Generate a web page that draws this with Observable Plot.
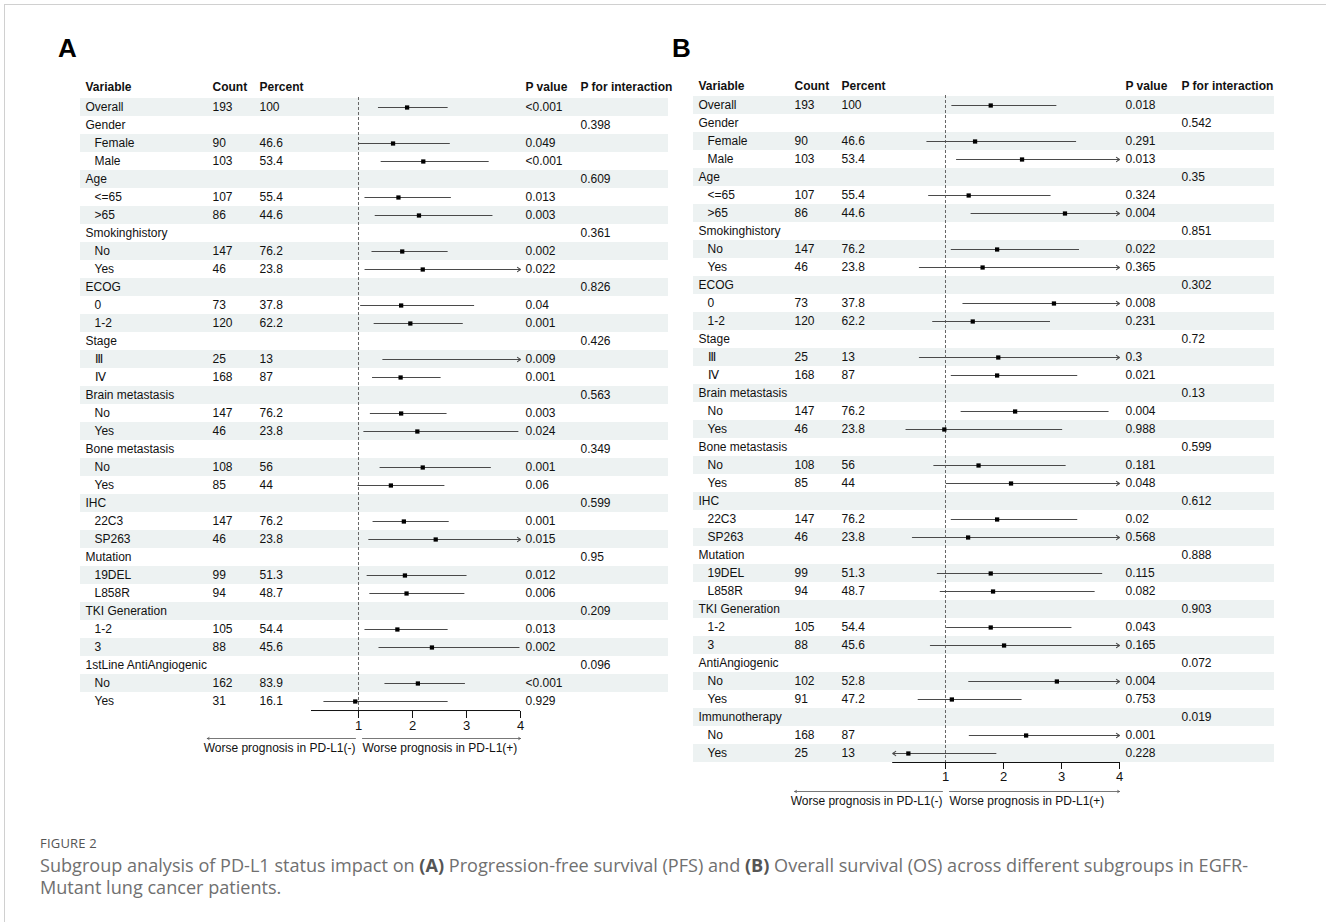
<!DOCTYPE html>
<html>
<head>
<meta charset="utf-8">
<script src="https://cdn.jsdelivr.net/npm/d3@7"></script>
<script src="https://cdn.jsdelivr.net/npm/@observablehq/plot@0.6"></script>
<style>
  body { margin: 0; background: #fff; }
  #page { position: relative; width: 1326px; height: 922px; overflow: hidden; background: #fff; }
  #edge { position: absolute; left: 4px; top: 4px; right: -10px; bottom: -10px;
          border-top: 1px solid #d0d0d0; border-left: 1px solid #d0d0d0; }
  .tag { position: absolute; font: bold 26px "Liberation Sans", Arial, sans-serif; line-height: 26px; color: #000; }
  .panel { position: absolute; }
  #caption { position: absolute; left: 40px; top: 834px; width: 1260px; font-family: "Open Sans", sans-serif; color: #707070; }
  #caption .fig { font-size: 13px; line-height: 18px; color: #555; letter-spacing: 0.2px; }
  #caption .txt { font-size: 18.1px; line-height: 22px; white-space: nowrap; }
  #caption .txt:first-of-type { margin-top: 2px; }
  #caption b { color: #555; font-weight: bold; }
</style>
</head>
<body>
<div id="page">
  <div id="edge"></div>
  <div class="tag" style="left:58px;top:35px">A</div>
  <div class="tag" style="left:672px;top:35px">B</div>
  <div class="panel" id="panelA" style="left:40px;top:60px"></div>
  <div class="panel" id="panelB" style="left:653px;top:60px"></div>
  <div id="caption">
    <div class="fig">FIGURE 2</div>
    <div class="txt" style="margin-top:2px">Subgroup analysis of PD-L1 status impact on <b>(A)</b> Progression-free survival (PFS) and <b>(B)</b> Overall survival (OS) across different subgroups in EGFR-</div>
    <div class="txt">Mutant lung cancer patients.</div>
  </div>
</div>
<script>
// ---------- Panel A: progression-free survival ----------
const variableA = ["Overall","Gender","Female","Male","Age","<=65",">65","Smokinghistory","No","Yes",
  "ECOG","0","1-2","Stage","Ⅲ","Ⅳ","Brain metastasis","No","Yes","Bone metastasis","No","Yes",
  "IHC","22C3","SP263","Mutation","19DEL","L858R","TKI Generation","1-2","3",
  "1stLine AntiAngiogenic","No","Yes"];
// 0 = heading row, 1 = indented subgroup
const levelA = [0,0,1,1,0,1,1,0,1,1,0,1,1,0,1,1,0,1,1,0,1,1,0,1,1,0,1,1,0,1,1,0,1,1];
const countA = [193,null,90,103,null,107,86,null,147,46,null,73,120,null,25,168,null,147,46,null,108,85,
  null,147,46,null,99,94,null,105,88,null,162,31];
const percentA = [100,null,46.6,53.4,null,55.4,44.6,null,76.2,23.8,null,37.8,62.2,null,13,87,null,76.2,23.8,
  null,56,44,null,76.2,23.8,null,51.3,48.7,null,54.4,45.6,null,83.9,16.1];
// hazard ratio and 95% CI (Infinity = upper limit beyond the axis)
const hrA = [1.90,null,1.64,2.20,null,1.74,2.12,null,1.81,2.19,null,1.79,1.96,null,4.4,1.78,null,1.79,2.09,
  null,2.19,1.60,null,1.84,2.43,null,1.86,1.89,null,1.72,2.36,null,2.10,0.94];
const lowerA = [1.37,null,1.00,1.42,null,1.12,1.31,null,1.25,1.12,null,1.04,1.29,null,1.45,1.26,null,1.22,1.10,
  null,1.40,0.99,null,1.27,1.19,null,1.16,1.21,null,1.12,1.38,null,1.49,0.36];
const upperA = [2.66,null,2.70,3.42,null,2.72,3.49,null,2.66,Infinity,null,3.15,2.94,null,Infinity,2.53,null,2.64,3.97,
  null,3.46,2.60,null,2.68,Infinity,null,3.01,2.97,null,2.66,3.99,null,2.98,2.66];
const pA = ["<0.001","","0.049","<0.001","","0.013","0.003","","0.002","0.022","","0.04","0.001","","0.009","0.001",
  "","0.003","0.024","","0.001","0.06","","0.001","0.015","","0.012","0.006","","0.013","0.002","","<0.001","0.929"];
const pIntA = ["","0.398","","","0.609","","","0.361","","","0.826","","","0.426","","","0.563","","","0.349","","",
  "0.599","","","0.95","","","0.209","","","0.096","",""];

// ---------- Panel B: overall survival ----------
const variableB = ["Overall","Gender","Female","Male","Age","<=65",">65","Smokinghistory","No","Yes",
  "ECOG","0","1-2","Stage","Ⅲ","Ⅳ","Brain metastasis","No","Yes","Bone metastasis","No","Yes",
  "IHC","22C3","SP263","Mutation","19DEL","L858R","TKI Generation","1-2","3",
  "AntiAngiogenic","No","Yes","Immunotherapy","No","Yes"];
const levelB = [0,0,1,1,0,1,1,0,1,1,0,1,1,0,1,1,0,1,1,0,1,1,0,1,1,0,1,1,0,1,1,0,1,1,0,1,1];
const countB = [193,null,90,103,null,107,86,null,147,46,null,73,120,null,25,168,null,147,46,null,108,85,
  null,147,46,null,99,94,null,105,88,null,102,91,null,168,25];
const percentB = [100,null,46.6,53.4,null,55.4,44.6,null,76.2,23.8,null,37.8,62.2,null,13,87,null,76.2,23.8,
  null,56,44,null,76.2,23.8,null,51.3,48.7,null,54.4,45.6,null,52.8,47.2,null,87,13];
const hrB = [1.78,null,1.51,2.32,null,1.40,3.06,null,1.89,1.64,null,2.87,1.47,null,1.91,1.89,null,2.20,0.98,
  null,1.57,2.13,null,1.89,1.39,null,1.78,1.82,null,1.78,2.01,null,2.92,1.11,null,2.39,0.36];
const lowerB = [1.11,null,0.68,1.19,null,0.71,1.44,null,1.10,0.55,null,1.30,0.78,null,0.55,1.10,null,1.27,0.32,
  null,0.80,1.01,null,1.10,0.43,null,0.86,0.91,null,1.02,0.74,null,1.40,0.53,null,1.41,0.05];
const upperB = [2.92,null,3.26,Infinity,null,2.82,Infinity,null,3.31,Infinity,null,Infinity,2.81,null,Infinity,3.28,
  null,3.82,3.02,null,3.08,Infinity,null,3.28,Infinity,null,3.71,3.58,null,3.18,Infinity,null,Infinity,2.32,null,Infinity,1.87];
const pB = ["0.018","","0.291","0.013","","0.324","0.004","","0.022","0.365","","0.008","0.231","","0.3","0.021",
  "","0.004","0.988","","0.181","0.048","","0.02","0.568","","0.115","0.082","","0.043","0.165","","0.004","0.753",
  "","0.001","0.228"];
const pIntB = ["","0.542","","","0.35","","","0.851","","","0.302","","","0.72","","","0.13","","","0.599","","",
  "0.612","","","0.888","","","0.903","","","0.072","","","0.019","",""];

const headers = ["Variable", "Count", "Percent", "P value", "P for interaction"];
const xTicks = [1, 2, 3, 4];
const directionLabels = ["Worse prognosis in PD-L1(-)", "Worse prognosis in PD-L1(+)"];

const FONT = '"Liberation Sans", Arial, sans-serif';

function buildRows(variable, level, count, percent, hr, lower, upper, p, pInt) {
  return variable.map((v, i) => ({
    i, variable: v, level: level[i],
    count: count[i] == null ? "" : String(count[i]),
    percent: percent[i] == null ? "" : String(percent[i]),
    hr: hr[i], lo: lower[i], hi: upper[i], p: p[i], pInt: pInt[i]
  }));
}

function forest(rows, cfg) {
  const [xmin, xmax] = cfg.xDomain;
  const last = rows.length - 1;
  const rowH = (cfg.height - cfg.marginTop - cfg.marginBottom) / rows.length;
  const est = rows.filter(d => d.lo != null);
  const inside = est.filter(d => d.lo >= xmin && d.hi <= xmax);
  const goRight = est.filter(d => d.hi > xmax);
  const goLeft = est.filter(d => d.lo < xmin);
  const ciStyle = {stroke: "#4a4a4a", strokeWidth: 1.2};
  const arrowStyle = {stroke: "#4a4a4a", strokeWidth: 1.1, headLength: 5, headAngle: 70, bend: 0};
  const [c0, c1, c2, c3, c4] = cfg.cols;
  const txt = {frameAnchor: "left", textAnchor: "start", lineAnchor: "middle", fontSize: 12, fill: "#111", y: "i"};
  const head = (label, dx) => Plot.text([label], {frameAnchor: "top-left", textAnchor: "start", lineAnchor: "middle",
    dx, dy: cfg.headerDy, text: d => d, fontSize: 12, fontWeight: "bold", fill: "#111"});

  return Plot.plot({
    width: cfg.width, height: cfg.height,
    marginTop: cfg.marginTop, marginLeft: cfg.marginLeft, marginRight: cfg.marginRight, marginBottom: cfg.marginBottom,
    style: {fontFamily: FONT, fontSize: "13px", color: "#111", background: "transparent", overflow: "visible"},
    x: {domain: cfg.xDomain, range: cfg.xRange, ticks: xTicks, tickSize: 7, tickPadding: 2,
        tickFormat: d => String(d), label: null},
    y: {domain: rows.map(d => d.i), padding: 0, axis: null},
    marks: [
      // alternating row shading across the table
      Plot.cell(rows.filter(d => d.i % 2 === 0), {y: "i", fill: "#edf2f2"}),
      // line of no effect
      Plot.ruleX([1], {stroke: "#666", strokeWidth: 1, strokeDasharray: "3,2"}),
      // axis baseline, spanning the scale's domain only
      Plot.ruleY([last], {y: d => d, x1: () => xmin, x2: () => xmax, dy: rowH / 2, stroke: "#111", strokeWidth: 1}),
      // confidence intervals
      Plot.ruleY(inside, {y: "i", x1: "lo", x2: "hi", ...ciStyle}),
      Plot.arrow(goRight, {x1: "lo", x2: () => xmax, y1: "i", y2: "i", ...arrowStyle}),
      Plot.arrow(goLeft, {x1: "hi", x2: () => xmin, y1: "i", y2: "i", ...arrowStyle}),
      // point estimates
      Plot.dot(est.filter(d => d.hr <= xmax), {x: "hr", y: "i", symbol: "square", r: 2.4, fill: "#000", stroke: null}),
      // table columns
      Plot.text(rows.filter(d => d.level === 0), {...txt, text: "variable", dx: c0}),
      Plot.text(rows.filter(d => d.level === 1), {...txt, text: "variable", dx: c0 + 9}),
      Plot.text(rows, {...txt, text: "count", dx: c1}),
      Plot.text(rows, {...txt, text: "percent", dx: c2}),
      Plot.text(rows, {...txt, text: "p", dx: c3}),
      Plot.text(rows, {...txt, text: "pInt", dx: c4}),
      // column headers
      head(headers[0], c0), head(headers[1], c1), head(headers[2], c2), head(headers[3], c3), head(headers[4], c4),
      // direction annotations under the axis
      Plot.arrow([cfg.leftEnd], {x1: () => 1, x2: d => d, y1: () => last, y2: () => last, dy: cfg.arrowDy,
        insetStart: 3, stroke: "#555", strokeWidth: 0.8, headLength: 4, headAngle: 60, bend: 0}),
      Plot.arrow([xmax], {x1: () => 1, x2: d => d, y1: () => last, y2: () => last, dy: cfg.arrowDy,
        insetStart: 4, stroke: "#555", strokeWidth: 0.8, headLength: 4, headAngle: 60, bend: 0}),
      Plot.text([directionLabels[0]], {x: () => 1, y: () => last, dy: cfg.arrowDy + 10, dx: -3, text: d => d,
        textAnchor: "end", fontSize: 12, fill: "#111"}),
      Plot.text([directionLabels[1]], {x: () => 1, y: () => last, dy: cfg.arrowDy + 10, dx: 4, text: d => d,
        textAnchor: "start", fontSize: 12, fill: "#111"})
    ]
  });
}

const rowsA = buildRows(variableA, levelA, countA, percentA, hrA, lowerA, upperA, pA, pIntA);
const rowsB = buildRows(variableB, levelB, countB, percentB, hrB, lowerB, upperB, pB, pIntB);

document.getElementById("panelA").append(forest(rowsA, {
  width: 640, height: 701, marginTop: 37, marginLeft: 40, marginRight: 12, marginBottom: 50,
  xDomain: [0.13, 4], xRange: [271, 480], cols: [5, 132, 179, 445, 500], headerDy: -10,
  leftEnd: -1.8, arrowDy: 37
}));

document.getElementById("panelB").append(forest(rowsB, {
  width: 640, height: 752, marginTop: 35, marginLeft: 40, marginRight: 19, marginBottom: 50,
  xDomain: [0.09, 4], xRange: [239.2, 466], cols: [5, 101, 148, 432, 488], headerDy: -9,
  leftEnd: -1.6, arrowDy: 38
}));
</script>
</body>
</html>
